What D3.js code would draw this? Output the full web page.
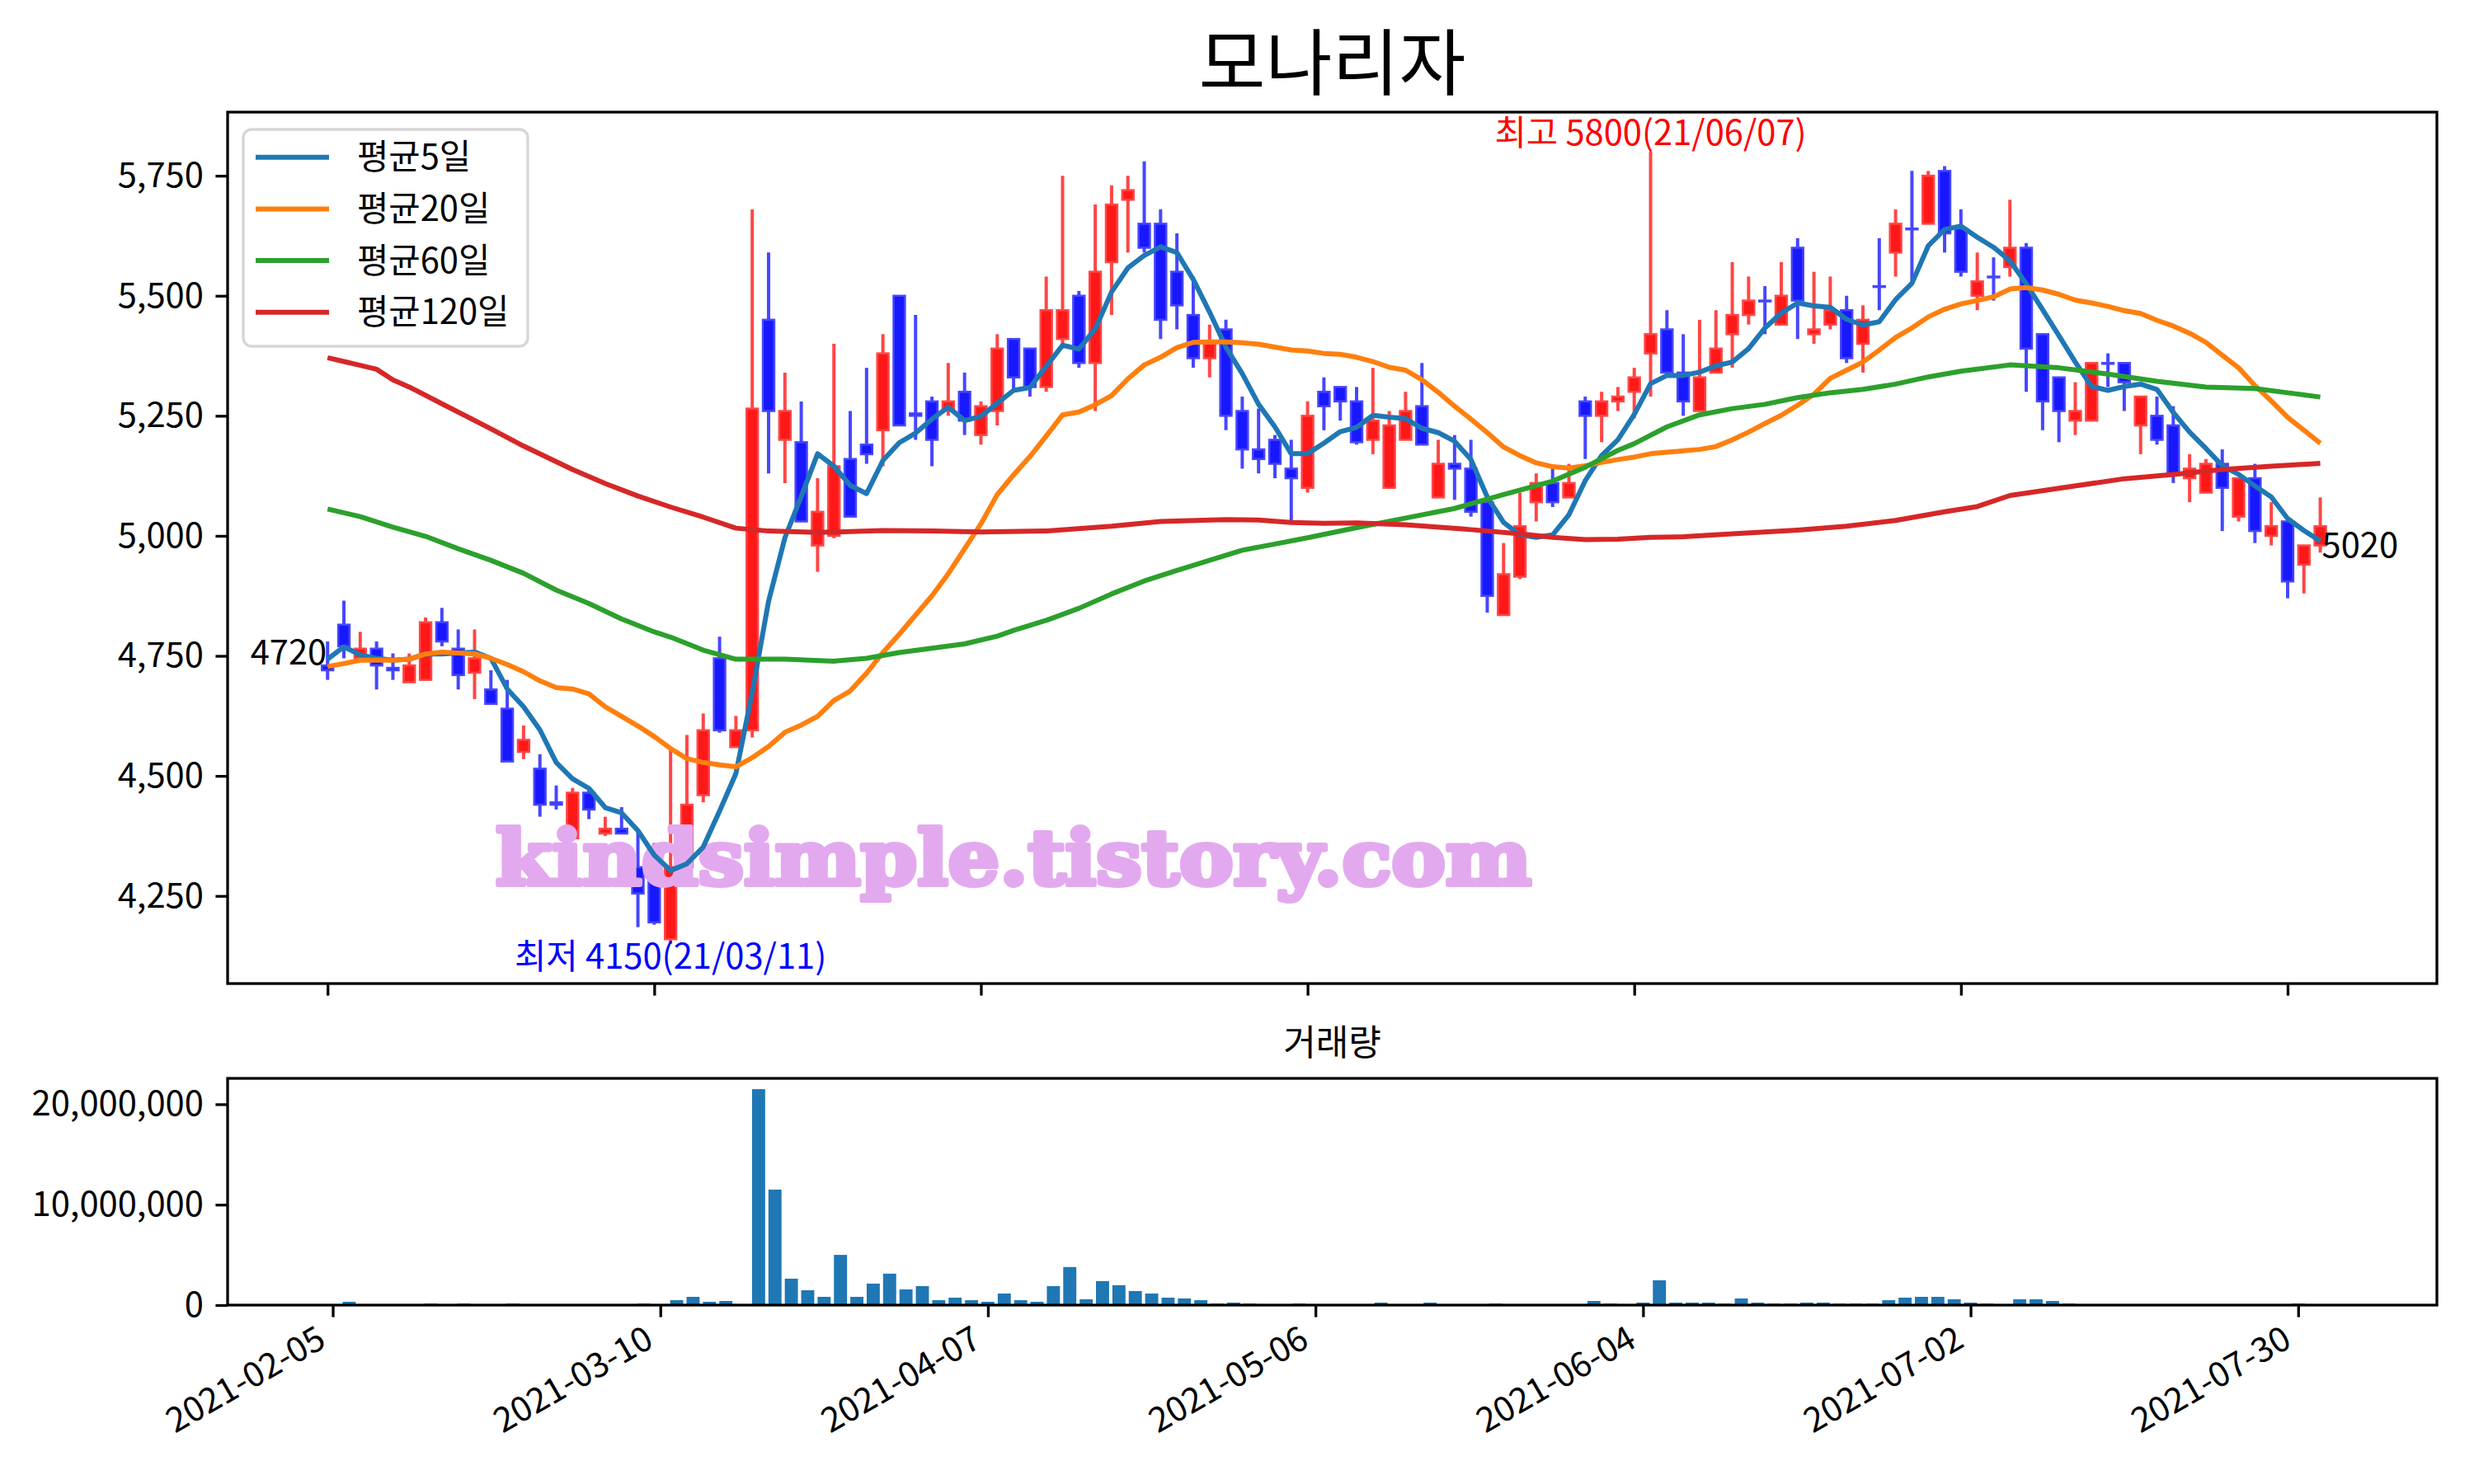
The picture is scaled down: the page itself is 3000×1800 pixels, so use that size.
<!DOCTYPE html>
<html>
<head>
<meta charset="utf-8">
<script src="https://cdn.jsdelivr.net/npm/d3@7"></script>
<style>
  body { margin: 0; background: #fff; }
  svg text { font-family: "Noto Sans CJK KR", "Noto Sans", sans-serif; }
</style>
</head>
<body>
<svg id="chart" width="3000" height="1800"></svg>
<script>
// daily candles, index 0 = 2021-02-05
const open = [4730,4815,4745,4765,4725,4695,4700,4820,4765,4715,4680,4640,4550,4515,4445,4370,4465,4380,4390,4310,
  4330,4160,4310,4460,4745,4560,4595,5450,5200,5195,4980,5000,5160,5190,5220,5500,5255,5280,5265,5300,
  5210,5260,5410,5390,5310,5410,5500,5360,5570,5700,5650,5650,5550,5460,5370,5430,5260,5180,5200,5140,
  5100,5300,5310,5280,5200,5100,5200,5270,5080,5150,5140,5070,4835,4915,5070,5110,5080,5280,5250,5280,
  5300,5380,5430,5340,5260,5340,5420,5460,5490,5440,5600,5420,5440,5470,5400,5520,5590,5640,5650,5760,
  5640,5500,5540,5560,5600,5420,5330,5240,5240,5360,5360,5230,5250,5230,5120,5090,5150,5040,5120,5000,
  5030,4940,4980];
const high = [4780,4865,4800,4780,4755,4755,4830,4850,4805,4805,4720,4700,4605,4545,4480,4475,4475,4415,4435,4385,
  4360,4560,4585,4630,4790,4625,5680,5590,5340,5280,5120,5400,5260,5350,5420,5500,5460,5290,5360,5340,
  5280,5420,5410,5390,5540,5750,5510,5690,5730,5750,5780,5680,5630,5540,5440,5450,5290,5265,5210,5200,
  5280,5330,5310,5310,5350,5260,5300,5360,5200,5210,5200,5070,4985,5090,5130,5140,5150,5290,5300,5310,
  5350,5800,5470,5420,5450,5470,5570,5540,5520,5570,5620,5550,5540,5500,5480,5620,5680,5760,5760,5770,
  5680,5590,5580,5700,5610,5420,5330,5320,5360,5380,5360,5290,5290,5270,5170,5160,5180,5120,5150,5070,
  5030,4980,5080];
const low = [4700,4745,4745,4680,4700,4695,4700,4770,4680,4660,4650,4530,4535,4415,4430,4365,4410,4375,4380,4185,
  4190,4150,4300,4445,4590,4560,4580,5130,5110,5030,4925,4995,5040,5150,5145,5230,5200,5145,5250,5210,
  5190,5230,5305,5290,5300,5390,5350,5260,5460,5590,5590,5410,5430,5350,5330,5220,5140,5130,5120,5025,
  5090,5220,5240,5190,5170,5100,5200,5190,5080,5075,5040,4840,4835,4910,5030,5060,5080,5160,5195,5260,
  5245,5290,5340,5250,5260,5340,5350,5440,5420,5440,5410,5400,5430,5360,5340,5470,5540,5530,5650,5590,
  5540,5470,5490,5540,5300,5220,5195,5210,5240,5310,5260,5170,5190,5110,5070,5090,5010,5030,4985,4980,
  4870,4880,4965];
const close = [4720,4770,4765,4730,4720,4730,4820,4780,4710,4745,4650,4530,4575,4440,4440,4465,4430,4390,4380,4255,
  4195,4310,4440,4595,4595,4595,5265,5260,5260,5030,5050,5145,5040,5170,5380,5230,5250,5200,5280,5240,
  5270,5390,5330,5310,5470,5470,5360,5550,5690,5720,5600,5450,5480,5370,5400,5250,5180,5160,5150,5120,
  5250,5270,5280,5195,5240,5230,5260,5190,5150,5140,5050,4875,4920,5020,5110,5070,5110,5250,5280,5290,
  5330,5420,5340,5280,5330,5390,5460,5490,5490,5500,5490,5430,5470,5370,5450,5520,5650,5640,5750,5630,
  5550,5530,5540,5600,5390,5280,5260,5260,5360,5360,5320,5290,5200,5130,5140,5150,5100,5120,5010,5020,
  4905,4980,5020];
const volume = [50000,330000,50000,50000,80000,80000,160000,80000,160000,50000,80000,160000,50000,80000,50000,80000,50000,50000,50000,160000,
  50000,490000,820000,330000,410000,80000,21500000,11500000,2630000,1480000,820000,5000000,820000,2140000,3130000,1560000,1890000,490000,740000,490000,
  330000,1150000,490000,330000,1890000,3790000,580000,2390000,1980000,1400000,1150000,740000,660000,490000,160000,250000,160000,80000,80000,160000,
  80000,80000,80000,80000,250000,80000,80000,250000,80000,50000,80000,160000,50000,50000,50000,50000,50000,410000,160000,80000,
  250000,2470000,250000,250000,250000,160000,660000,250000,160000,160000,250000,250000,160000,160000,160000,490000,740000,820000,820000,580000,
  250000,160000,80000,580000,580000,410000,160000,80000,50000,50000,50000,80000,80000,80000,80000,50000,50000,80000,80000,50000,
  160000,50000,50000];

// moving averages
const ma5 = [4743,4769,4752,4745,4741,4743,4754,4754,4756,4758,4745,4681,4644,4596,4528,4494,4474,4434,4423,4386,
  4335,4303,4317,4352,4427,4505,4674,4864,4996,5082,5171,5145,5105,5088,5157,5194,5214,5243,5268,5240,
  5249,5276,5303,5309,5353,5397,5389,5431,5508,5558,5584,5602,5590,5534,5466,5393,5338,5274,5227,5171,
  5171,5193,5217,5226,5251,5247,5244,5224,5215,5197,5159,5081,5028,5002,4997,5002,5044,5115,5167,5200,
  5253,5317,5334,5334,5341,5354,5362,5390,5433,5464,5485,5479,5476,5451,5439,5446,5492,5526,5604,5638,
  5645,5622,5601,5573,5525,5471,5417,5362,5311,5303,5311,5316,5305,5257,5216,5182,5146,5128,5104,5081,
  5036,5011,4989];
const ma20 = [4728,4734,4741,4741,4741,4743,4754,4758,4756,4754,4745,4732,4717,4698,4684,4681,4671,4644,4624,4604,
  4582,4557,4536,4528,4523,4519,4538,4561,4591,4606,4624,4657,4677,4714,4757,4795,4835,4875,4921,4973,
  5025,5086,5127,5165,5208,5252,5258,5273,5292,5327,5356,5372,5392,5403,5404,5404,5402,5399,5393,5387,
  5385,5380,5378,5372,5363,5351,5345,5325,5299,5270,5243,5215,5185,5167,5152,5144,5141,5146,5153,5159,
  5164,5171,5174,5177,5180,5186,5200,5216,5234,5251,5272,5295,5328,5345,5362,5387,5413,5433,5456,5472,
  5483,5490,5498,5514,5517,5512,5503,5491,5485,5478,5469,5463,5449,5437,5422,5403,5376,5350,5313,5281,
  5247,5220,5193];
// [day index, value]
const ma60 = [[0,5056],[2,5040],[4,5018],[6,4999],[8,4973],[10,4949],[12,4922],[14,4887],[16,4859],[18,4827],
  [20,4800],[21,4789],[23,4762],[25,4743],[28,4743],[31,4739],[33,4745],[35,4757],[37,4766],[39,4775],
  [41,4791],[42,4803],[44,4824],[46,4849],[48,4879],[50,4906],[52,4928],[54,4949],[56,4970],[58,4983],
  [60,4996],[63,5017],[66,5037],[69,5057],[72,5086],[75,5114],[77,5143],[79,5178],[80,5192],[82,5227],
  [84,5252],[86,5265],[88,5274],[90,5288],[92,5298],[94,5305],[96,5316],[98,5331],[100,5343],[103,5356],
  [106,5350],[109,5337],[112,5322],[115,5310],[118,5307],[120,5298],[122,5289]];
const ma120 = [[0,5371],[1,5363],[2,5355],[3,5347],[4,5325],[5,5310],[7,5275],[10,5223],[12,5187],[15,5138],
  [17,5109],[19,5083],[21,5060],[23,5039],[25,5016],[27,5010],[30,5007],[34,5011],[37,5010],[40,5008],
  [44,5010],[48,5020],[51,5030],[55,5034],[57,5033],[59,5028],[61,5026],[63,5027],[66,5023],[70,5013],
  [73,5004],[75,4997],[77,4992],[79,4993],[81,4997],[83,4998],[86,5004],[90,5012],[93,5020],[96,5032],
  [99,5050],[101,5061],[103,5084],[106,5099],[110,5119],[113,5128],[116,5138],[119,5145],[122,5151]];

const tickIdx = [0, 20, 40, 60, 80, 100, 120];
const tickDates = ["2021-02-05","2021-03-10","2021-04-07","2021-05-06","2021-06-04","2021-07-02","2021-07-30"];
const priceTicks = [4250, 4500, 4750, 5000, 5250, 5500, 5750];
const volTicks = [0, 10000000, 20000000];
const maNames = ["평균5일", "평균20일", "평균60일", "평균120일"];
const maColors = ["#1f77b4", "#ff7f0e", "#2ca02c", "#d62728"];

const W = 3000, H = 1800;
const L = 276, R = 2955;
const mainTop = 136, mainBot = 1193;
const volTop = 1308, volBot = 1583;
const fs = 41.7, tickLen = 14.6;

const svg = d3.select("#chart");
svg.append("rect").attr("width", W).attr("height", H).attr("fill", "#fff");

const x = d3.scaleLinear().domain([-6.12, 129.14]).range([L, R]);
const y = d3.scaleLinear().domain([4067.5, 5882.5]).range([mainBot, mainTop]);
const xv = d3.scaleLinear().domain([-6.42, 128.47]).range([L, R]);
const yv = d3.scaleLinear().domain([0, d3.max(volume) * 1.05]).range([volBot, volTop]);

const days = d3.range(close.length);
const up = i => close[i] > open[i];

// candles
const bw = (x(1) - x(0)) * 0.7;
const cg = svg.append("g");
cg.selectAll("line").data(days).join("line")
    .attr("x1", i => x(i)).attr("x2", i => x(i))
    .attr("y1", i => y(high[i])).attr("y2", i => y(low[i]))
    .attr("stroke", i => up(i) ? "#ff4646" : "#4646ff")
    .attr("stroke-width", 4);
cg.selectAll("rect").data(days).join("rect")
    .attr("x", i => x(i) - bw / 2)
    .attr("width", bw)
    .attr("y", i => y(Math.max(open[i], close[i])))
    .attr("height", i => Math.max(1, Math.abs(y(open[i]) - y(close[i]))))
    .attr("fill", i => up(i) ? "#ff1818" : "#1818ff")
    .attr("stroke", i => up(i) ? "#ff4646" : "#4646ff")
    .attr("stroke-width", 2.5);

// watermark
svg.append("text")
    .attr("x", 601).attr("y", 1073)
    .attr("textLength", 1256).attr("lengthAdjust", "spacingAndGlyphs")
    .style("font-family", "'DejaVu Serif', serif")
    .attr("font-weight", "bold")
    .attr("font-size", 92)
    .attr("fill", "#e3a9ef")
    .attr("stroke", "#e3a9ef").attr("stroke-width", 6).attr("stroke-linejoin", "round")
    .text("kindsimple.tistory.com");

// moving average lines
const line = d3.line().x(d => x(d[0])).y(d => y(d[1]));
const maSeries = [ma5.map((v, i) => [i, v]), ma20.map((v, i) => [i, v]), ma60, ma120];
maSeries.forEach((s, k) => {
  svg.append("path").attr("d", line(s))
      .attr("fill", "none").attr("stroke", maColors[k])
      .attr("stroke-width", 6).attr("stroke-linejoin", "round");
});

// labels
const last = close.length - 1;
svg.append("text").attr("x", x(0) - 1).attr("y", y(close[0]) - 7)
    .attr("text-anchor", "end").attr("font-size", fs).text(close[0]);
svg.append("text").attr("x", x(last) + 2).attr("y", y(close[last]) + 38)
    .attr("font-size", fs).text(close[last]);
const hi = d3.maxIndex(high), lo = d3.minIndex(low);
svg.append("text").attr("x", x(hi)).attr("y", y(high[hi]) - 8)
    .attr("text-anchor", "middle").attr("font-size", fs).attr("fill", "red")
    .text("최고 " + high[hi] + "(21/06/07)");
svg.append("text").attr("x", x(lo)).attr("y", y(low[lo]) + 30)
    .attr("text-anchor", "middle").attr("font-size", fs).attr("fill", "blue")
    .text("최저 " + low[lo] + "(21/03/11)");

// volume bars
const vb = (xv(1) - xv(0)) * 0.8;
svg.append("g").selectAll("rect").data(days).join("rect")
    .attr("x", i => xv(i) - vb / 2).attr("width", vb)
    .attr("y", i => yv(volume[i]))
    .attr("height", i => yv(0) - yv(volume[i]))
    .attr("fill", "#1f77b4");

// axes
function styleAxis(g) {
  g.select(".domain").remove();
  g.selectAll(".tick line").attr("stroke", "#000").attr("stroke-width", 3.3);
  g.selectAll(".tick text").attr("font-size", fs).attr("fill", "#000")
      .style("font-family", "'Noto Sans CJK KR', sans-serif");
}
svg.append("g").attr("transform", `translate(${L},0)`)
    .call(d3.axisLeft(y).tickValues(priceTicks).tickFormat(d3.format(",")).tickSize(tickLen).tickPadding(tickLen))
    .call(styleAxis);
svg.append("g").attr("transform", `translate(0,${mainBot})`)
    .call(d3.axisBottom(x).tickValues(tickIdx).tickFormat("").tickSize(tickLen))
    .call(styleAxis);
svg.append("g").attr("transform", `translate(${L},0)`)
    .call(d3.axisLeft(yv).tickValues(volTicks).tickFormat(d3.format(",")).tickSize(tickLen).tickPadding(tickLen))
    .call(styleAxis);
svg.append("g").attr("transform", `translate(0,${volBot})`)
    .call(d3.axisBottom(xv).tickValues(tickIdx).tickFormat((d, k) => tickDates[k]).tickSize(tickLen))
    .call(styleAxis)
    .selectAll(".tick text")
      .attr("x", 0).attr("y", 0).attr("dy", "0.75em")
      .attr("text-anchor", "end")
      .attr("transform", "translate(-22,22) rotate(-30)");

// frames
[[mainTop, mainBot], [volTop, volBot]].forEach(([t, b]) => {
  svg.append("rect").attr("x", L).attr("y", t).attr("width", R - L).attr("height", b - t)
      .attr("fill", "none").attr("stroke", "#000").attr("stroke-width", 3.3);
});

// titles
svg.append("text").attr("x", (L + R) / 2).attr("y", 108)
    .attr("text-anchor", "middle").attr("font-size", 88).text("모나리자");
svg.append("text").attr("x", (L + R) / 2).attr("y", 1280)
    .attr("text-anchor", "middle").attr("font-size", 43).text("거래량");

// legend
const lg = svg.append("g");
lg.append("rect").attr("x", 295).attr("y", 157).attr("width", 345).attr("height", 263).attr("rx", 10)
    .attr("fill", "#fff").attr("fill-opacity", 0.8)
    .attr("stroke", "#d6d6d6").attr("stroke-width", 3.3);
maNames.forEach((name, k) => {
  const ly = 190.7 + k * 62.7;
  lg.append("line").attr("x1", 310).attr("x2", 399).attr("y1", ly).attr("y2", ly)
      .attr("stroke", maColors[k]).attr("stroke-width", 6);
  lg.append("text").attr("x", 433).attr("y", ly).attr("dy", "0.35em")
      .attr("font-size", fs).text(name);
});
</script>
</body>
</html>
